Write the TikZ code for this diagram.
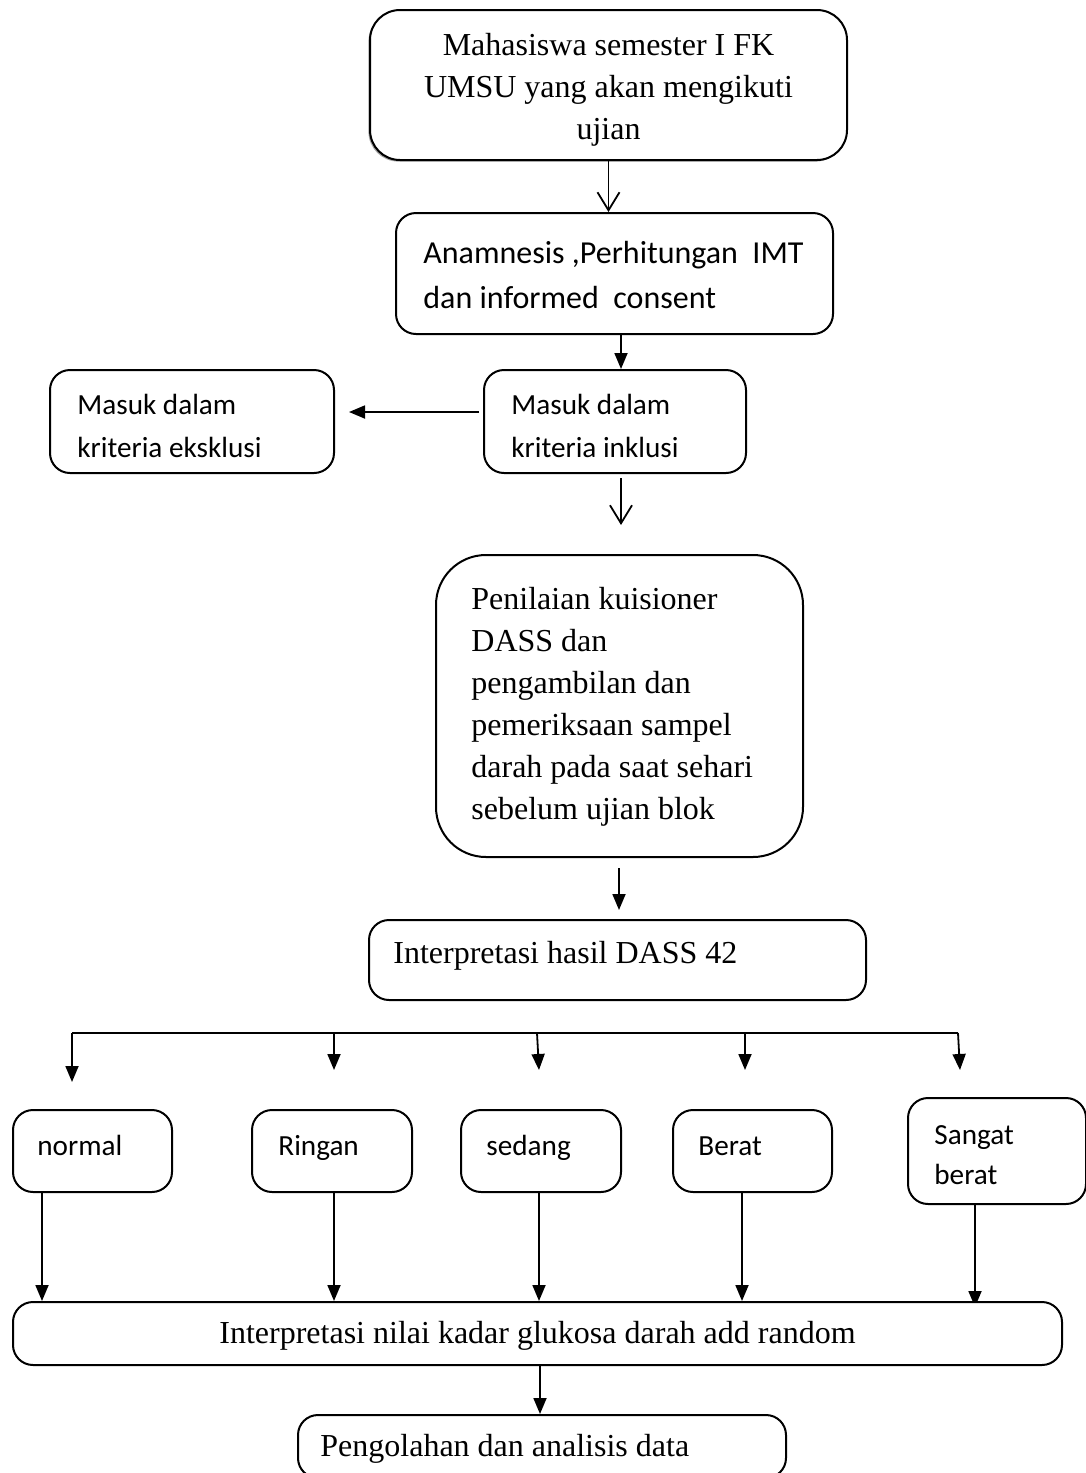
\documentclass[tikz,border=0pt]{standalone}
\usepackage{fontspec}
\setmainfont{Liberation Serif}
\newfontfamily\calfont{Carlito}
\usetikzlibrary{arrows.meta,shadows,backgrounds}
\begin{document}
\begin{tikzpicture}[x=0.5pt,y=-0.5pt,
  box/.style={draw, line width=1pt, fill=white, inner sep=0pt},
  rbox/.style={box, rounded corners=10pt},
  sertext/.style={font=\fontsize{16}{21}\selectfont, inner sep=0pt},
  caltext/.style={font=\calfont\fontsize{14.6}{21.5}\selectfont, inner sep=0pt, align=left, anchor=west},
  cattext/.style={caltext, anchor=base west},
  conn/.style={line width=0.9pt},
  fa/.style={conn, -{Triangle[length=8pt,width=6.5pt]}},
  va/.style={conn, -{Straight Barb[length=9pt,width=11pt,line width=0.9pt]}}
]
\useasboundingbox (0,0) rectangle (1086,1473);

% top box
\node[rbox, rounded corners=15pt, minimum width=238.5pt, minimum height=75pt,
  drop shadow={shadow xshift=-0.8pt, shadow yshift=-0.8pt, fill=black!70}] (top) at (608.5,85) {};
\node[sertext, align=center] (topt) at (608.5,90)
  {Mahasiswa semester I FK\\UMSU yang akan mengikuti\\ujian};

% anamnesis
\node[rbox, minimum width=218.5pt, minimum height=60.5pt] (anam) at (614.5,273.5) {};
\node[caltext, font=\calfont\fontsize{16}{22}\selectfont] (anamt) at (423,275)
  {Anamnesis ,Perhitungan\ \ IMT\\dan informed\ \ consent};

% inklusi
\node[rbox, minimum width=131pt, minimum height=51.5pt] (inkl) at (615,421.5) {};
\node[caltext] (inklt) at (511,426) {Masuk dalam\\kriteria inklusi};

% eksklusi
\node[rbox, minimum width=142pt, minimum height=51.5pt] (eks) at (192,421.5) {};
\node[caltext] (ekst) at (77,426) {Masuk dalam\\kriteria eksklusi};

% penilaian
\node[rbox, rounded corners=25pt, minimum width=183.5pt, minimum height=151pt] (pen) at (619.5,706) {};
\node[sertext, align=left, anchor=west] (pent) at (471,707)
  {Penilaian kuisioner\\DASS dan\\pengambilan dan\\pemeriksaan sampel\\darah pada saat sehari\\sebelum ujian blok};

% DASS
\node[rbox, minimum width=248.5pt, minimum height=40pt] (dass) at (617.5,960) {};
\node[sertext, anchor=west] (dasst) at (393,956) {Interpretasi hasil DASS 42};

% categories
\node[rbox, minimum width=79.5pt, minimum height=41pt] (nor) at (92.5,1151) {};
\node[cattext] (nort) at (37,1155) {normal};
\node[rbox, minimum width=80pt, minimum height=41pt] (rin) at (332,1151) {};
\node[cattext] (rint) at (278,1155) {Ringan};
\node[rbox, minimum width=80pt, minimum height=41pt] (sed) at (541,1151) {};
\node[cattext] (sedt) at (486,1155) {sedang};
\node[rbox, minimum width=79.5pt, minimum height=41pt] (ber) at (752.5,1151) {};
\node[cattext] (bert) at (698,1155) {Berat};
\node[rbox, minimum width=89pt, minimum height=53pt] (sb) at (997,1151) {};
\node[caltext, font=\calfont\fontsize{14.6}{20}\selectfont] (sbt) at (934,1155) {Sangat\\berat};

% nilai
\node[rbox, minimum width=524.5pt, minimum height=31.5pt] (nil) at (537.5,1333.5) {};
\node[sertext] (nilt) at (537.5,1336) {Interpretasi nilai kadar glukosa darah add random};

% pengolahan
\node[rbox, minimum width=244pt, minimum height=31.5pt] (peng) at (542,1446.5) {};
\node[sertext, anchor=west] (pengt) at (320,1449) {Pengolahan dan analisis data};

% connectors
\draw[va] (top.south) -- (top.south |- anam.north);
\coordinate (c621) at (621,0);
\draw[fa] (anam.south -| c621) -- (inkl.north -| c621);
\coordinate (ie1) at (479,412);
\coordinate (ie2) at (349,412);
\draw[fa] (ie1) -- (ie2);
\coordinate (v1) at (621,478);
\coordinate (v2) at (621,525);
\draw[va] (v1) -- (v2);
\coordinate (p1) at (619,868);
\coordinate (p2) at (619,910);
\draw[fa] (p1) -- (p2);

% distribution line
\coordinate (h1) at (72,1033);
\coordinate (h2) at (334,1033);
\coordinate (h3) at (537,1033);
\coordinate (h4) at (745,1033);
\coordinate (h5) at (958,1033);
\draw[conn] (h1) -- (h5);
\coordinate (a1) at (72,1082);
\coordinate (a2) at (334,1070);
\coordinate (a3) at (539,1070);
\coordinate (a4) at (745,1070);
\coordinate (a5) at (960,1070);
\draw[fa] (h1) -- (a1);
\draw[fa] (h2) -- (a2);
\draw[fa] (h3) -- (a3);
\draw[fa] (h4) -- (a4);
\draw[fa] (h5) -- (a5);

% category arrows to nilai
\coordinate (x1) at (42,0);
\coordinate (x2) at (334,0);
\coordinate (x3) at (539,0);
\coordinate (x4) at (742,0);
\coordinate (x5) at (975,0);
\draw[fa] (nor.south -| x1) -- (nil.north -| x1);
\draw[fa] (rin.south -| x2) -- (nil.north -| x2);
\draw[fa] (sed.south -| x3) -- (nil.north -| x3);
\draw[fa] (ber.south -| x4) -- (nil.north -| x4);
\begin{pgfonlayer}{background}
\draw[fa] (sb.south -| x5) -- ([yshift=-3pt]nil.north -| x5);
\end{pgfonlayer}

\coordinate (x6) at (540,0);
\draw[fa] (nil.south -| x6) -- (peng.north -| x6);
\end{tikzpicture}
\end{document}
